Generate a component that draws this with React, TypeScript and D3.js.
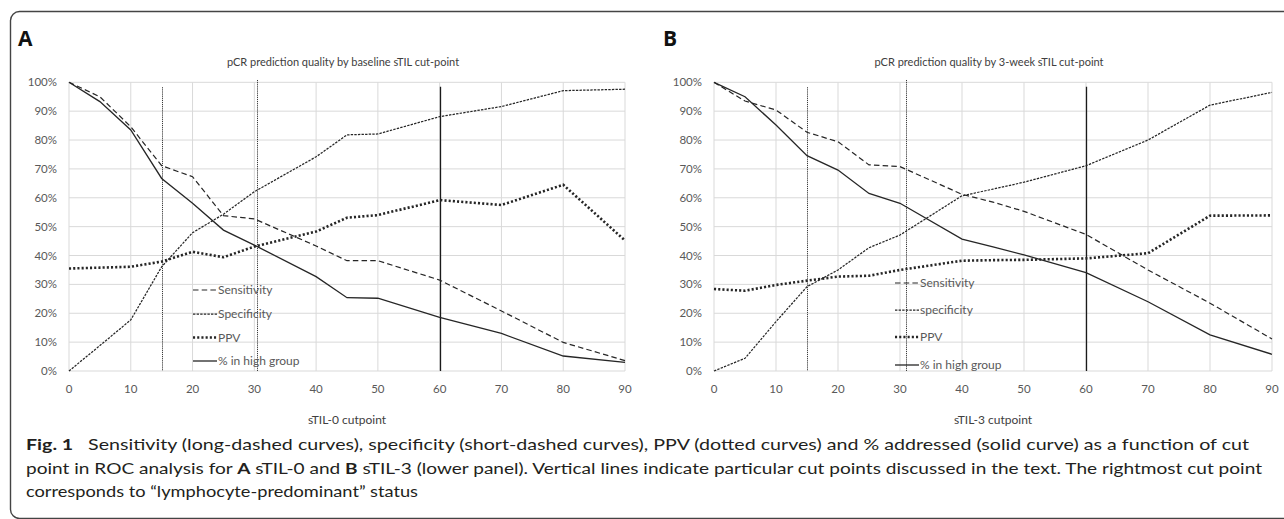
import React from "react";
import * as d3 from "d3";

// cut points on the x axis
const cutsA = [0, 5, 10, 15, 20, 25, 30, 40, 45, 50, 60, 70, 80, 90];
const cutsB = [0, 5, 10, 15, 20, 25, 30, 40, 45, 50, 60, 70, 80, 90];

// panel A (baseline sTIL)
const sensA = [100, 95, 84.6, 71.1, 67.3, 53.8, 52.7, 43.3, 38.2, 38.2, 31.5, 20.8, 9.9, 3.6];
const specA = [0, 8.8, 17.7, 36.1, 47.9, 54.3, 62.1, 74.2, 81.8, 82.1, 88.1, 91.6, 97.1, 97.6];
const ppvA = [35.5, 35.8, 36.1, 37.9, 41.3, 39.4, 43.1, 48.3, 53.1, 54.0, 59.2, 57.5, 64.5, 45.2];
const highA = [100, 93.3, 83.5, 66.7, 58.1, 48.8, 43.6, 32.7, 25.4, 25.2, 18.6, 13.0, 5.2, 3.0];

// panel B (3-week sTIL)
const sensB = [100, 93.5, 90.4, 82.7, 79.4, 71.4, 70.8, 61.2, 58.5, 55.3, 47.3, 35.0, 23.5, 11.1];
const specB = [0, 4.4, 17.1, 29.2, 35.0, 42.7, 47.1, 60.7, 63.0, 65.4, 71.1, 80.0, 92.1, 96.5];
const ppvB = [28.4, 27.8, 29.8, 31.3, 32.7, 33.0, 35.0, 38.2, 38.4, 38.5, 39.0, 40.8, 53.8, 53.9];
const highB = [100, 95.0, 85.2, 74.6, 69.6, 61.5, 58.1, 45.7, 43.0, 40.2, 34.1, 24.0, 12.5, 5.8];

// vertical cut-point markers: position, top (in %)
const markersA = [15, 30.5, 60];
const markersB = [15, 31, 60];
const markerTops = [98.3, 100.8, 98.5];

const xTicks = [0, 10, 20, 30, 40, 50, 60, 70, 80, 90];
const yTicks = [0, 10, 20, 30, 40, 50, 60, 70, 80, 90, 100];

const legendA = ["Sensitivity", "Specificity", "PPV", "% in high group"];
const legendB = ["Sensitivity", "specificity", "PPV", "% in high group"];

const FONT = "Lato, 'Open Sans', sans-serif";
const INK = "#262626";

const styles = [
  { dash: "5.5,3.2", width: 1.2 },
  { dash: "2.4,1.2", width: 1.25 },
  { dash: "2.1,2.1", width: 2.6 },
  { dash: "none", width: 1.3 },
];

interface PanelProps {
  left: number;
  right: number;
  letter: string;
  title: string;
  xTitle: string;
  cuts: number[];
  series: number[][];
  markers: number[];
  legend: string[];
  legendX: number;
  legendY: number[];
}

const Panel: React.FC<PanelProps> = ({
  left, right, letter, title, xTitle, cuts, series, markers, legend, legendX, legendY,
}) => {
  const top = 82.3;
  const bottom = 371;
  const x = d3.scaleLinear().domain([0, 90]).range([left, right]);
  const y = d3.scaleLinear().domain([0, 100]).range([bottom, top]);
  const mid = (left + right) / 2;

  const line = d3
    .line<number>()
    .x((_, i) => x(cuts[i]))
    .y((d) => y(d));

  return (
    <g>
      <text x={left - 51} y={46} fontFamily="'Open Sans', Arial, sans-serif" fontWeight="bold" fontSize={21} fill="#111">
        {letter}
      </text>
      <text x={mid - 4} y={65.5} textAnchor="middle" fontFamily={FONT} fontSize={11} fill="#404040">
        {title}
      </text>

      {/* grid */}
      {yTicks.map((t) => (
        <line key={"h" + t} x1={left} x2={right} y1={y(t)} y2={y(t)} stroke="#d9d9d9" strokeWidth={1} />
      ))}
      {xTicks.map((t) => (
        <line key={"v" + t} x1={x(t)} x2={x(t)} y1={top} y2={bottom} stroke="#d9d9d9" strokeWidth={1} />
      ))}

      {/* tick labels */}
      {yTicks.map((t) => (
        <text key={"yl" + t} x={left - 12} y={y(t) + 4} textAnchor="end" fontFamily={FONT} fontSize={11.5} fill="#595959">
          {t + "%"}
        </text>
      ))}
      {xTicks.map((t) => (
        <text key={"xl" + t} x={x(t)} y={393} textAnchor="middle" fontFamily={FONT} fontSize={11.5} fill="#595959">
          {t}
        </text>
      ))}
      <text x={mid} y={424} textAnchor="middle" fontFamily={FONT} fontSize={12} fill="#404040">
        {xTitle}
      </text>

      {/* cut-point markers */}
      {markers.map((m, i) => (
        <line
          key={"m" + i}
          x1={Math.round(x(m)) + 0.5}
          x2={Math.round(x(m)) + 0.5}
          y1={y(markerTops[i])}
          y2={bottom}
          stroke={i === 2 ? "#1a1a1a" : "#3a3a3a"}
          strokeWidth={i === 2 ? 1.3 : 1}
          strokeDasharray={i === 2 ? "none" : "1.2,0.9"}
        />
      ))}

      {/* curves */}
      {series.map((s, i) => (
        <path
          key={"s" + i}
          d={line(s) ?? ""}
          fill="none"
          stroke={INK}
          strokeWidth={styles[i].width}
          strokeDasharray={styles[i].dash}
        />
      ))}

      {/* legend */}
      {legend.map((name, i) => (
        <g key={"lg" + i}>
          <line
            x1={legendX}
            x2={legendX + 24}
            y1={legendY[i]}
            y2={legendY[i]}
            stroke={INK}
            strokeWidth={styles[i].width}
            strokeDasharray={styles[i].dash}
          />
          <text x={legendX + 25} y={legendY[i] + 4.2} fontFamily={FONT} fontSize={12} fill="#595959">
            {name}
          </text>
        </g>
      ))}
    </g>
  );
};

export default function App() {
  return (
    <svg
      width={1284}
      height={519}
      viewBox="0 0 1284 519"
      style={{ position: "absolute", left: 0, top: 0, background: "#fff" }}
    >
      <rect x={10.5} y={11.5} width={1320} height={507} rx={9} fill="none" stroke="#444" strokeWidth={1.4} />

      <Panel
        left={69}
        right={625}
        letter="A"
        title="pCR prediction quality by baseline sTIL cut-point"
        xTitle="sTIL-0 cutpoint"
        cuts={cutsA}
        series={[sensA, specA, ppvA, highA]}
        markers={markersA}
        legend={legendA}
        legendX={193}
        legendY={[290, 314, 337.5, 361]}
      />
      <Panel
        left={714}
        right={1272}
        letter="B"
        title="pCR prediction quality by 3-week sTIL cut-point"
        xTitle="sTIL-3 cutpoint"
        cuts={cutsB}
        series={[sensB, specB, ppvB, highB]}
        markers={markersB}
        legend={legendB}
        legendX={895}
        legendY={[283, 310, 337, 365]}
      />

      {/* caption */}
      <g fontFamily={FONT} fontSize={16} fill="#231f20">
        <text x={26} y={450} textLength={1223} lengthAdjust="spacingAndGlyphs">
          <tspan fontWeight="bold">Fig. 1</tspan>
          {"\u2002 Sensitivity (long-dashed curves), specificity (short-dashed curves), PPV (dotted curves) and % addressed (solid curve) as a function of cut"}
        </text>
        <text x={26} y={473.5} textLength={1236} lengthAdjust="spacingAndGlyphs">
          {"point in ROC analysis for "}
          <tspan fontWeight="bold">A</tspan>
          {" sTIL-0 and "}
          <tspan fontWeight="bold">B</tspan>
          {" sTIL-3 (lower panel). Vertical lines indicate particular cut points discussed in the text. The rightmost cut point"}
        </text>
        <text x={26} y={497} textLength={392} lengthAdjust="spacingAndGlyphs">
          {"corresponds to \u201clymphocyte-predominant\u201d status"}
        </text>
      </g>
    </svg>
  );
}
